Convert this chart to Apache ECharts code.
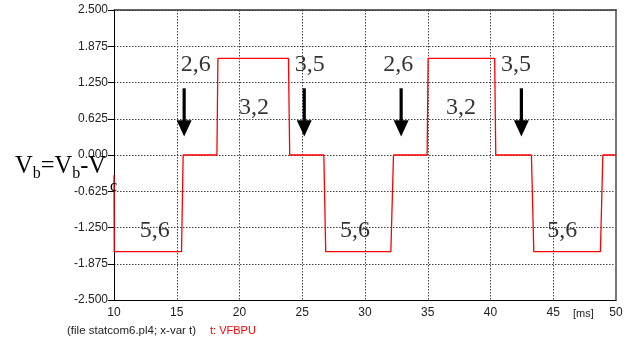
<!DOCTYPE html>
<html>
<head>
<meta charset="utf-8">
<script src="https://cdn.jsdelivr.net/npm/echarts@6/dist/echarts.min.js"></script>
<style>html,body{margin:0;padding:0;background:#fff;}#c{width:634px;height:343px;}</style>
</head>
<body>
<div id="c"></div>
<script>
// Waveform VFBPU (time in ms, value)
const timeMs = [10, 10.02, 15.38, 15.51, 18.2, 18.28, 23.9, 24.0, 26.72, 26.87, 32.06, 32.27, 34.95, 35.03, 40.33, 40.42, 43.26, 43.45, 48.76, 48.95, 50];
const vfbpu  = [-0.35, -1.667, -1.667, 0, 0, 1.667, 1.667, 0, 0, -1.667, -1.667, 0, 0, 1.667, 1.667, 0, 0, -1.667, -1.667, 0, 0];

// y ticks
const yTicks = [-2.5, -1.875, -1.25, -0.625, 0, 0.625, 1.25, 1.875, 2.5];
// x ticks
const xTicks = [10, 15, 20, 25, 30, 35, 40, 45, 50];

// annotation labels
const noteText = ['2,6', '3,5', '3,2', '2,6', '3,5', '3,2', '5,6', '5,6', '5,6'];
const noteT    = [16.52, 25.59, 21.15, 32.64, 42.04, 37.65, 13.25, 29.21, 45.71];
const noteV    = [1.56, 1.56, 0.82, 1.56, 1.56, 0.82, -1.305, -1.305, -1.305];

// arrows
const arrowT    = [15.59, 25.16, 32.88, 42.46];
const arrowTop  = [1.15, 1.15, 1.15, 1.15];
const arrowBase = [0.60, 0.60, 0.60, 0.60];
const arrowTip  = [0.32, 0.32, 0.32, 0.32];

// y-axis title pieces: text, role (0 main, 1 subscript b, 2 subscript c)
const titleParts = ['V', 'b', '=V', 'b', '-V', 'c'];
const titleRole  = [0, 1, 0, 1, 0, 2];

const chart = echarts.init(document.getElementById('c'), null, {renderer: 'canvas'});
const sans = 'Liberation Sans, Arial, sans-serif';
const serif = 'Liberation Serif, Times New Roman, serif';

const lineData = timeMs.map((t, i) => [t, vfbpu[i]]);
const noteData = noteT.map((t, i) => [t, noteV[i], noteText[i]]);
const arrowData = arrowT.map((t, i) => [t, arrowTop[i], arrowBase[i], arrowTip[i]]);

// lay out y-axis title manually
const mctx = document.createElement('canvas').getContext('2d');
const roleSize = [24.5, 16, 16];
const roleMid = [166.3, 173.6, 187.0];
const roleShift = [0, 0, 4];
let cx = 15;
const titleGraphics = titleParts.map((t, i) => {
  const r = titleRole[i];
  mctx.font = roleSize[r] + 'px "Liberation Serif"';
  const el = {
    type: 'text', z: 100, zlevel: 0,
    style: {x: cx + roleShift[r], y: roleMid[r], text: t, fontFamily: serif, fontSize: roleSize[r],
      fill: '#000', align: 'left', verticalAlign: 'middle'}
  };
  cx += mctx.measureText(t).width;
  return el;
});

const option = {
  animation: false,
  backgroundColor: '#fff',
  grid: {left: 114, right: 18, top: 10, bottom: 43, containLabel: false},
  xAxis: [{
    type: 'value', min: xTicks[0], max: xTicks[xTicks.length - 1], interval: 5,
    axisLine: {show: true, onZero: false, lineStyle: {color: '#000', width: 1}},
    axisTick: {show: false},
    axisLabel: {color: '#222', fontFamily: sans, fontSize: 12, margin: 7},
    splitLine: {show: true, lineStyle: {color: '#444', type: [1.5, 1.5], width: 1}}
  }, {
    type: 'value', position: 'top', min: 10, max: 50,
    axisLine: {show: true, onZero: false, lineStyle: {color: '#333', width: 1.5}},
    axisTick: {show: false}, axisLabel: {show: false}, splitLine: {show: false}
  }],
  yAxis: [{
    type: 'value', min: yTicks[0], max: yTicks[yTicks.length - 1], interval: 0.625,
    axisLine: {show: true, onZero: false, lineStyle: {color: '#000', width: 1}},
    axisTick: {show: true, length: 6, lineStyle: {color: '#000'}},
    axisLabel: {color: '#222', fontFamily: sans, fontSize: 12, margin: 6,
      formatter: v => v.toFixed(3)},
    splitLine: {show: true, lineStyle: {color: '#444', type: [1.5, 1.5], width: 1}}
  }, {
    type: 'value', position: 'right', min: -2.5, max: 2.5,
    axisLine: {show: true, onZero: false, lineStyle: {color: '#777', width: 2}},
    axisTick: {show: false}, axisLabel: {show: false}, splitLine: {show: false}
  }],
  series: [{
    type: 'line', data: lineData, showSymbol: false, symbol: 'none',
    lineStyle: {color: '#ff0000', width: 1.3}, z: 5
  }, {
    type: 'scatter', data: noteData, symbolSize: 0, z: 6,
    label: {show: true, position: 'inside', formatter: p => p.data[2],
      color: '#000', fontFamily: serif, fontSize: 24}
  }, {
    type: 'custom', data: arrowData, z: 7,
    renderItem: function (params, api) {
      const top = api.coord([api.value(0), api.value(1)]);
      const base = api.coord([api.value(0), api.value(2)]);
      const tip = api.coord([api.value(0), api.value(3)]);
      const hw = 7.5, sw = 1.6;
      return {
        type: 'group',
        children: [{
          type: 'rect',
          shape: {x: top[0] - sw, y: top[1], width: sw * 2, height: base[1] - top[1] + 1},
          style: {fill: '#000'}
        }, {
          type: 'polygon',
          shape: {points: [[base[0] - hw, base[1]], [base[0] + hw, base[1]], [tip[0], tip[1]]]},
          style: {fill: '#000'}
        }]
      };
    }
  }],
  graphic: {
    elements: titleGraphics.concat([{
      type: 'text', left: 573, top: 308, z: 100,
      style: {text: '[ms]', fontFamily: sans, fontSize: 11, fill: '#222'}
    }, {
      type: 'text', left: 67, top: 325, z: 100,
      style: {text: '(file statcom6.pl4; x-var t)', fontFamily: sans, fontSize: 11.5, fill: '#222'}
    }, {
      type: 'text', left: 210, top: 325, z: 100,
      style: {text: 't: VFBPU', fontFamily: sans, fontSize: 11, fill: '#ff0000'}
    }])
  }
};
chart.setOption(option);
</script>
</body>
</html>
